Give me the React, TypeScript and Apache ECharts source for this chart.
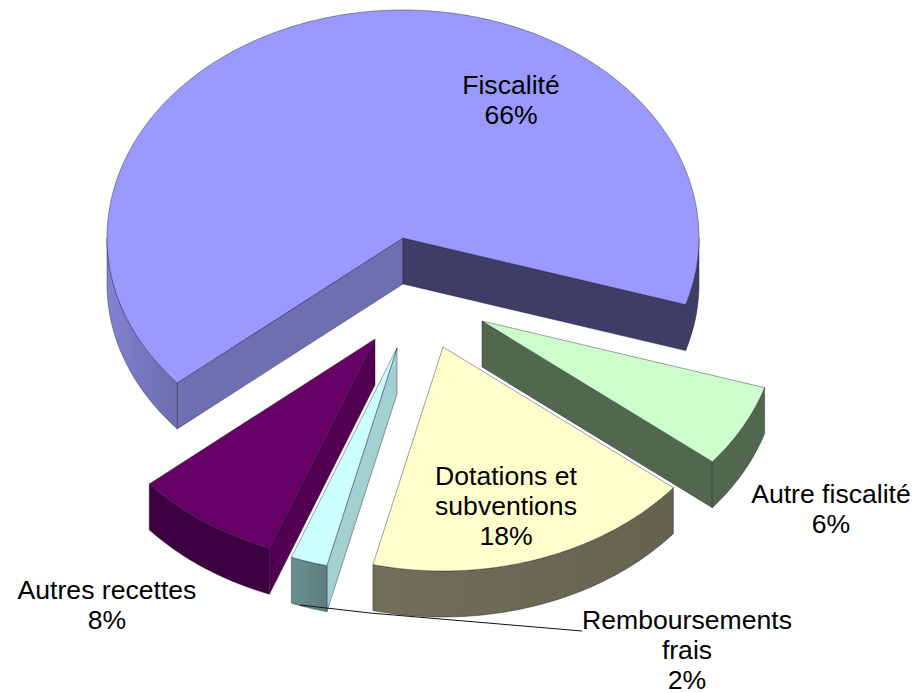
import React, { useEffect, useRef } from "react";
import * as echarts from "echarts";

// Data
const categories = ["Fiscalité", "Autre fiscalité", "Dotations et\nsubventions", "Remboursements\nfrais", "Autres recettes"];
const shares = [66, 6, 18, 2, 8];

// Pie geometry and style
const START = 139.7;
const RX = 296;
const RY_BACK = 228;
const RY_FRONT = 224;
const DEPTH = 46;
const centres = [[403, 238], [482, 321], [443, 347], [397, 348], [375, 339]];
const labelAt = [[511, 100], [831, 509], [506, 506], [687, 649.5], [107, 605]];
const topFill = ["#9999FF", "#CCFFCC", "#FFFFCC", "#CCFFFF", "#660066"];
const startFace = ["#6E6EB0", "#51684F", "#666650", "#A3D1D1", "#530053"];
const endFace = ["#3D3D66", "#51684F", "#666650", "#A3D1D1", "#530053"];
const wallFill = [
  ["#8282D2", "#6C6CAE"],
  ["#51684F", "#51684F"],
  ["#70705A", "#63634E"],
  ["#6A8F8F", "#5C7E7E"],
  ["#3C0040", "#3C0040"],
];
const LEADER = [[300, 605], [370, 613], [582, 631]];
const EDGE = "rgba(30,30,50,0.7)";
const LINE_GAP = 30;

const rad = (d: number) => (d * Math.PI) / 180;
function pt(c: number[], a: number, drop = 0) {
  const s = Math.sin(rad(a));
  return [c[0] + RX * Math.cos(rad(a)), c[1] + (s > 0 ? RY_FRONT : RY_BACK) * s + drop];
}
function arc(c: number[], a1: number, a2: number, drop = 0) {
  const n = Math.max(2, Math.ceil(Math.abs(a2 - a1)));
  const out: number[][] = [];
  for (let i = 0; i <= n; i++) out.push(pt(c, a1 + ((a2 - a1) * i) / n, drop));
  return out;
}
function frontSpans(a1: number, a2: number) {
  const spans: number[][] = [];
  for (let k = 0; k < 3; k++) {
    const lo = Math.max(a1, 360 * k);
    const hi = Math.min(a2, 360 * k + 180);
    if (hi > lo) spans.push([lo, hi]);
  }
  return spans;
}
const poly = (points: number[][], fill: any, lineWidth = 0.6) => ({
  type: "polygon",
  shape: { points },
  style: { fill, stroke: EDGE, lineWidth },
});

function renderSlice(params: any) {
  const i = params.dataIndex;
  const c = centres[i];
  const before = shares.slice(0, i).reduce((a, b) => a + b, 0);
  const a1 = START + before * 3.6;
  const a2 = a1 + shares[i] * 3.6;
  const children: any[] = [];
  const base = [c[0], c[1] + DEPTH];

  const face = (a: number, fill: string) => {
    const p = pt(c, a);
    const q = pt(c, a, DEPTH);
    children.push(poly([c, p, q, base], fill));
  };
  if (Math.cos(rad(a1)) < 0) face(a1, startFace[i]);
  if (Math.cos(rad(a2)) > 0) face(a2, endFace[i]);

  frontSpans(a1, a2).forEach(([lo, hi]) => {
    const outline = [...arc(c, lo, hi), ...arc(c, hi, lo, DEPTH)];
    const isRightOfMain = i === 0 && lo >= 360;
    const fill = isRightOfMain
      ? endFace[0]
      : new echarts.graphic.LinearGradient(0, 0, 1, 0, [
          { offset: 0, color: wallFill[i][0] },
          { offset: 1, color: wallFill[i][1] },
        ]);
    children.push(poly(outline, fill));
  });

  children.push(poly([c, ...arc(c, a1, a2)], topFill[i]));

  if (i === 3) {
    children.push({
      type: "polyline",
      shape: { points: LEADER },
      style: { stroke: "#111111", lineWidth: 1, fill: "none" },
    });
  }
  const lines = `${categories[i]}\n${shares[i]}%`.split("\n");
  lines.forEach((text, k) => {
    children.push({
      type: "text",
      z2: 10,
      style: {
        text,
        x: labelAt[i][0],
        y: labelAt[i][1] + (k - (lines.length - 1) / 2) * LINE_GAP,
        fill: "#000000",
        font: '26.6px "Liberation Sans", Arial, sans-serif',
        lineHeight: 20,
        textAlign: "center",
        textVerticalAlign: "middle",
      },
    });
  });
  return { type: "group", children };
}

export default function App() {
  const ref = useRef<HTMLDivElement>(null);
  useEffect(() => {
    const chart = echarts.init(ref.current!, null, { renderer: "svg" });
    chart.setOption({
      animation: false,
      backgroundColor: "#ffffff",
      series: [
        {
          type: "custom",
          coordinateSystem: "none",
          silent: true,
          clip: false,
          data: shares,
          renderItem: renderSlice,
        },
      ],
    });
    return () => chart.dispose();
  }, []);
  return <div ref={ref} style={{ position: "absolute", left: 0, top: 0, width: 924, height: 693 }} />;
}
